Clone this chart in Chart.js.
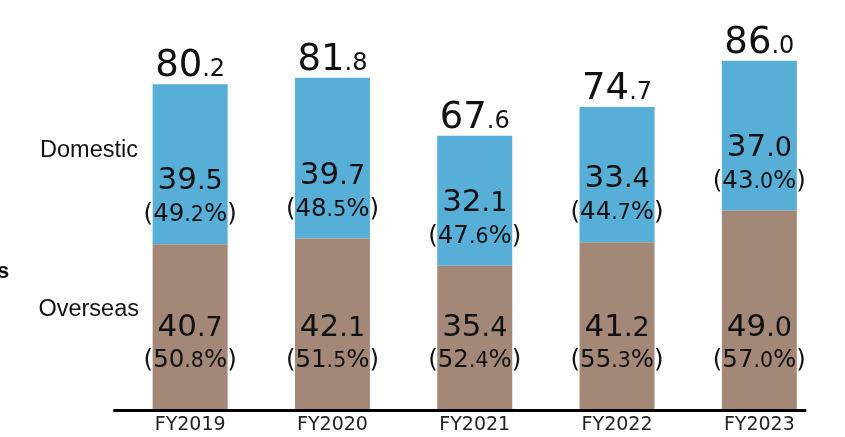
<!DOCTYPE html>
<html>
<head>
<meta charset="utf-8">
<script src="https://cdn.jsdelivr.net/npm/chart.js@4/dist/chart.umd.min.js"></script>
<style>
  body { margin: 0; background: #fff; }
</style>
</head>
<body>
<canvas id="chart" width="845" height="437"></canvas>
<script>
const years = ['FY2019', 'FY2020', 'FY2021', 'FY2022', 'FY2023'];
const overseas = [40.7, 42.1, 35.4, 41.2, 49.0];
const domestic = [39.5, 39.7, 32.1, 33.4, 37.0];
const totals = [80.2, 81.8, 67.6, 74.7, 86.0];
const overseasShare = [50.8, 51.5, 52.4, 55.3, 57.0];
const domesticShare = [49.2, 48.5, 47.6, 44.7, 43.0];

const numFont = '"DejaVu Sans", Verdana, sans-serif';

// draw "39.5" style text with a smaller decimal part, centred on x
function drawSplit(ctx, parts, x, y) {
    let width = 0;
    parts.forEach(p => {
        ctx.font = p.size + 'px ' + numFont;
        p.w = ctx.measureText(p.text).width;
        width += p.w;
    });
    let cx = x - width / 2;
    parts.forEach(p => {
        ctx.font = p.size + 'px ' + numFont;
        ctx.fillText(p.text, cx, y);
        cx += p.w;
    });
}

function valueParts(v, big, small) {
    const s = v.toFixed(1).split('.');
    return [{ text: s[0], size: big }, { text: '.' + s[1], size: small }];
}

function shareParts(v, big, small) {
    const s = v.toFixed(1).split('.');
    return [{ text: '(' + s[0], size: big }, { text: '.' + s[1], size: small }, { text: '%)', size: big }];
}

const labelPlugin = {
    id: 'labels',
    afterDatasetsDraw(chart) {
        const ctx = chart.ctx;
        const area = chart.chartArea;
        const xs = chart.scales.x;
        const overMeta = chart.getDatasetMeta(0);
        const domMeta = chart.getDatasetMeta(1);
        ctx.save();
        ctx.fillStyle = '#111';
        ctx.textBaseline = 'alphabetic';
        ctx.textAlign = 'left';

        years.forEach((y, i) => {
            const ob = overMeta.data[i];
            const db = domMeta.data[i];
            drawSplit(ctx, valueParts(totals[i], 37, 24), db.x, db.y - 8);
            drawSplit(ctx, valueParts(domestic[i], 31, 27), db.x, db.base - 55);
            drawSplit(ctx, shareParts(domesticShare[i], 24.5, 20.5), db.x, db.base - 23);
            drawSplit(ctx, valueParts(overseas[i], 31, 27), ob.x, ob.base - 73);
            drawSplit(ctx, shareParts(overseasShare[i], 24.5, 20.5), ob.x, ob.base - 42);
        });

        // axis line
        const step = xs.getPixelForValue(1) - xs.getPixelForValue(0);
        const x0 = xs.getPixelForValue(0) - 0.54 * step;
        const x1 = xs.getPixelForValue(years.length - 1) + 0.33 * step;
        ctx.fillStyle = '#000';
        ctx.fillRect(x0, area.bottom, x1 - x0, 3);

        // series names
        ctx.fillStyle = '#111';
        ctx.textAlign = 'right';
        ctx.textBaseline = 'middle';
        ctx.font = '23.5px "Liberation Sans", Arial, sans-serif';
        ctx.fillText('Domestic', area.left + 19, 151);
        ctx.fillText('Overseas', area.left + 20, 310);
        ctx.textAlign = 'left';
        ctx.font = 'bold 22px "Liberation Sans", Arial, sans-serif';
        ctx.fillText('s', -3, 272);
        ctx.restore();
    }
};

new Chart(document.getElementById('chart'), {
    type: 'bar',
    data: {
        labels: years,
        datasets: [
            { label: 'Overseas', data: overseas, backgroundColor: '#A38878' },
            { label: 'Domestic', data: domestic, backgroundColor: '#57AED6' }
        ]
    },
    options: {
        responsive: false,
        animation: false,
        layout: { padding: { left: 119, right: 14.5, top: 0, bottom: 0 } },
        datasets: { bar: { barPercentage: 0.527, categoryPercentage: 1, borderWidth: 0 } },
        plugins: { legend: { display: false }, tooltip: { enabled: false } },
        scales: {
            x: {
                stacked: true,
                grid: { display: false, drawTicks: false },
                border: { display: false },
                ticks: { color: '#222', padding: 5, font: { family: numFont, size: 19 } },
                afterFit(scale) { scale.height = 28; }
            },
            y: {
                stacked: true,
                display: false,
                min: 0,
                max: 101
            }
        }
    },
    plugins: [labelPlugin]
});
</script>
</body>
</html>
